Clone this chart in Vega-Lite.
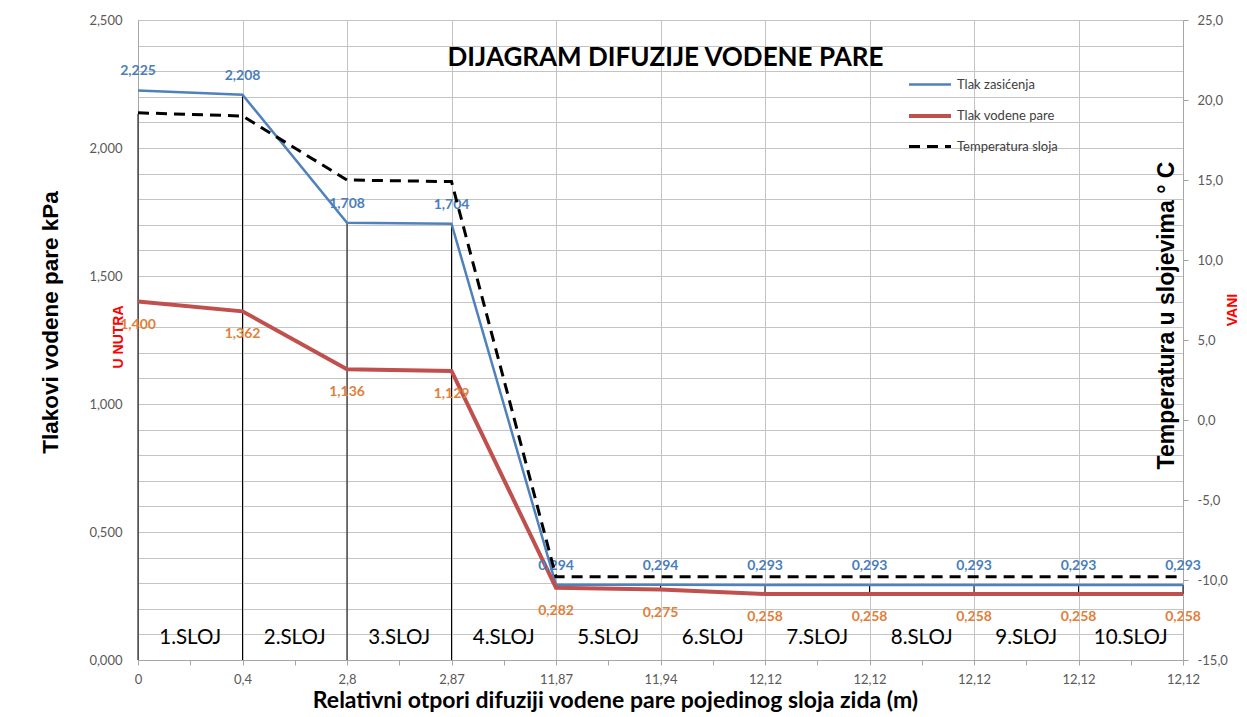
{
  "$schema": "https://vega.github.io/schema/vega-lite/v6.json",
  "width": 1045,
  "height": 640,
  "autosize": "none",
  "padding": {"left": 138, "top": 20, "right": 64, "bottom": 57},
  "background": "white",
  "config": {
    "view": {"stroke": null},
    "font": "Lato",
    "locale": {"number": {"decimal": ",", "thousands": ".", "grouping": [3], "currency": ["", ""], "minus": "-"}},
    "axis": {"labelFont": "Lato", "labelFontSize": 13, "labelColor": "#595959", "gridColor": "#c4c4c4", "domainColor": "#a6a6a6", "tickColor": "#a6a6a6"}
  },
  "title": {"text": "DIJAGRAM DIFUZIJE VODENE PARE", "anchor": "middle", "frame": "group", "offset": 0, "baseline": "middle", "dy": 70, "dx": 5, "font": "Lato", "fontSize": 26, "fontWeight": "bold", "color": "#000000"},
  "datasets": {
    "pts": [
      {"i": 0, "zas": 2.225, "par": 1.400, "temp": 19.2, "lo": 0, "hi": 2.133},
      {"i": 1, "zas": 2.208, "par": 1.362, "temp": 19.0, "lo": 0, "hi": 2.208},
      {"i": 2, "zas": 1.708, "par": 1.136, "temp": 15.0, "lo": 0, "hi": 1.708},
      {"i": 3, "zas": 1.704, "par": 1.129, "temp": 14.9, "lo": 0, "hi": 1.704},
      {"i": 4, "zas": 0.294, "par": 0.282, "temp": -9.8, "lo": 0.282, "hi": 0.294},
      {"i": 5, "zas": 0.294, "par": 0.275, "temp": -9.8, "lo": 0.275, "hi": 0.294},
      {"i": 6, "zas": 0.293, "par": 0.258, "temp": -9.8, "lo": 0.258, "hi": 0.293},
      {"i": 7, "zas": 0.293, "par": 0.258, "temp": -9.8, "lo": 0.258, "hi": 0.293},
      {"i": 8, "zas": 0.293, "par": 0.258, "temp": -9.8, "lo": 0.258, "hi": 0.293},
      {"i": 9, "zas": 0.293, "par": 0.258, "temp": -9.8, "lo": 0.258, "hi": 0.293},
      {"i": 10, "zas": 0.293, "par": 0.258, "temp": -9.8, "lo": 0.258, "hi": 0.293}
    ],
    "sloj": [
      {"i": 0.5, "y": 0.086, "t": "1.SLOJ"},
      {"i": 1.5, "y": 0.086, "t": "2.SLOJ"},
      {"i": 2.5, "y": 0.086, "t": "3.SLOJ"},
      {"i": 3.5, "y": 0.086, "t": "4.SLOJ"},
      {"i": 4.5, "y": 0.086, "t": "5.SLOJ"},
      {"i": 5.5, "y": 0.086, "t": "6.SLOJ"},
      {"i": 6.5, "y": 0.086, "t": "7.SLOJ"},
      {"i": 7.5, "y": 0.086, "t": "8.SLOJ"},
      {"i": 8.5, "y": 0.086, "t": "9.SLOJ"},
      {"i": 9.5, "y": 0.086, "t": "10.SLOJ"}
    ]
  },
  "encoding": {
    "x": {"field": "i", "type": "quantitative", "scale": {"domain": [0, 10], "nice": false, "zero": false},
      "axis": {"values": [0, 0.5, 1, 1.5, 2, 2.5, 3, 3.5, 4, 4.5, 5, 5.5, 6, 6.5, 7, 7.5, 8, 8.5, 9, 9.5, 10],
        "labelExpr": "abs(datum.value - round(datum.value)) < 0.01 ? ['0','0,4','2,8','2,87','11,87','11,94','12,12','12,12','12,12','12,12','12,12'][round(datum.value)] : ''",
        "grid": true,
        "gridOpacity": {"condition": {"test": "abs(datum.value - round(datum.value)) > 0.01", "value": 0}, "value": 1},
        "tickSize": 5, "labelPadding": 8, "labelFlush": false, "labelOverlap": false,
        "title": "Relativni otpori difuziji vodene pare pojedinog sloja zida (m)",
        "titleFont": "Lato", "titleFontSize": 23, "titleFontWeight": "bold", "titleColor": "#000000",
        "titleX": 477, "titleY": 40, "titleAlign": "center", "titleBaseline": "middle"}}
  },
  "layer": [
    {
      "layer": [
        {
          "data": {"name": "pts"},
          "mark": {"type": "rule", "color": "#000000", "strokeWidth": 1},
          "encoding": {
            "y": {"field": "lo", "type": "quantitative", "scale": {"domain": [0, 2.5], "nice": false, "zero": false},
              "axis": {"values": [0, 0.1, 0.2, 0.3, 0.4, 0.5, 0.6, 0.7, 0.8, 0.9, 1.0, 1.1, 1.2, 1.3, 1.4, 1.5, 1.6, 1.7, 1.8, 1.9, 2.0, 2.1, 2.2, 2.3, 2.4, 2.5], "format": ".3f", "labelExpr": "abs(datum.value * 2 - round(datum.value * 2)) < 0.001 ? datum.label : ''", "grid": true, "ticks": false, "labelPadding": 16, "labelOverlap": false, "title": "Tlakovi vodene pare kPa", "titleFont": "Liberation Sans", "titleFontSize": 22.5, "titleFontWeight": "bold", "titleColor": "#000000", "titleAngle": 270, "titleX": -88, "titleY": 302, "titleAlign": "center", "titleBaseline": "middle"}},
            "y2": {"field": "hi"}
          }
        },
        {
          "data": {"name": "pts"},
          "mark": {"type": "line", "strokeWidth": 2.5},
          "encoding": {
            "y": {"field": "zas", "type": "quantitative",
              "axis": {"values": [0, 0.1, 0.2, 0.3, 0.4, 0.5, 0.6, 0.7, 0.8, 0.9, 1.0, 1.1, 1.2, 1.3, 1.4, 1.5, 1.6, 1.7, 1.8, 1.9, 2.0, 2.1, 2.2, 2.3, 2.4, 2.5], "format": ".3f", "labelExpr": "abs(datum.value * 2 - round(datum.value * 2)) < 0.001 ? datum.label : ''", "grid": true, "ticks": false, "labelPadding": 16, "labelOverlap": false, "title": "Tlakovi vodene pare kPa", "titleFont": "Liberation Sans", "titleFontSize": 22.5, "titleFontWeight": "bold", "titleColor": "#000000", "titleAngle": 270, "titleX": -88, "titleY": 302, "titleAlign": "center", "titleBaseline": "middle"}},
            "color": {"datum": "Tlak zasićenja", "type": "nominal",
              "scale": {"domain": ["Tlak zasićenja", "Tlak vodene pare", "Temperatura sloja"], "range": ["#4f81bd", "#c0504d", "#000000"]},
              "legend": {"title": null, "orient": "none", "legendX": 785.5, "legendY": 58, "padding": 0,
                "symbolType": "stroke", "symbolSize": 1764, "symbolStrokeWidth": 2.5,
                "labelFont": "Lato", "labelFontSize": 13, "labelColor": "#404040", "labelOffset": 20.5, "rowPadding": 15.5,
                "encode": {"symbols": {"update": {
                  "strokeDash": {"signal": "datum.value === 'Temperatura sloja' ? [11, 7] : [1, 0]"},
                  "strokeWidth": {"signal": "datum.value === 'Tlak vodene pare' ? 4 : (datum.value === 'Temperatura sloja' ? 3 : 2.5)"}
                }}}}}
          }
        },
        {
          "data": {"name": "pts"},
          "mark": {"type": "line", "strokeWidth": 4},
          "encoding": {
            "y": {"field": "par", "type": "quantitative",
              "axis": {"values": [0, 0.1, 0.2, 0.3, 0.4, 0.5, 0.6, 0.7, 0.8, 0.9, 1.0, 1.1, 1.2, 1.3, 1.4, 1.5, 1.6, 1.7, 1.8, 1.9, 2.0, 2.1, 2.2, 2.3, 2.4, 2.5], "format": ".3f", "labelExpr": "abs(datum.value * 2 - round(datum.value * 2)) < 0.001 ? datum.label : ''", "grid": true, "ticks": false, "labelPadding": 16, "labelOverlap": false, "title": "Tlakovi vodene pare kPa", "titleFont": "Liberation Sans", "titleFontSize": 22.5, "titleFontWeight": "bold", "titleColor": "#000000", "titleAngle": 270, "titleX": -88, "titleY": 302, "titleAlign": "center", "titleBaseline": "middle"}},
            "color": {"datum": "Tlak vodene pare", "type": "nominal"}
          }
        },
        {
          "data": {"name": "pts"},
          "mark": {"type": "text", "font": "Lato", "fontSize": 14, "fontWeight": "bold", "color": "#4a7ebb", "baseline": "middle", "align": "center", "dy": -19},
          "encoding": {
            "y": {"field": "zas", "type": "quantitative",
              "axis": {"values": [0, 0.1, 0.2, 0.3, 0.4, 0.5, 0.6, 0.7, 0.8, 0.9, 1.0, 1.1, 1.2, 1.3, 1.4, 1.5, 1.6, 1.7, 1.8, 1.9, 2.0, 2.1, 2.2, 2.3, 2.4, 2.5], "format": ".3f", "labelExpr": "abs(datum.value * 2 - round(datum.value * 2)) < 0.001 ? datum.label : ''", "grid": true, "ticks": false, "labelPadding": 16, "labelOverlap": false, "title": "Tlakovi vodene pare kPa", "titleFont": "Liberation Sans", "titleFontSize": 22.5, "titleFontWeight": "bold", "titleColor": "#000000", "titleAngle": 270, "titleX": -88, "titleY": 302, "titleAlign": "center", "titleBaseline": "middle"}},
            "text": {"field": "zas", "type": "quantitative", "format": ".3f"}
          }
        },
        {
          "data": {"name": "pts"},
          "mark": {"type": "text", "font": "Lato", "fontSize": 14, "fontWeight": "bold", "color": "#e0803a", "baseline": "middle", "align": "center", "dy": 23},
          "encoding": {
            "y": {"field": "par", "type": "quantitative",
              "axis": {"values": [0, 0.1, 0.2, 0.3, 0.4, 0.5, 0.6, 0.7, 0.8, 0.9, 1.0, 1.1, 1.2, 1.3, 1.4, 1.5, 1.6, 1.7, 1.8, 1.9, 2.0, 2.1, 2.2, 2.3, 2.4, 2.5], "format": ".3f", "labelExpr": "abs(datum.value * 2 - round(datum.value * 2)) < 0.001 ? datum.label : ''", "grid": true, "ticks": false, "labelPadding": 16, "labelOverlap": false, "title": "Tlakovi vodene pare kPa", "titleFont": "Liberation Sans", "titleFontSize": 22.5, "titleFontWeight": "bold", "titleColor": "#000000", "titleAngle": 270, "titleX": -88, "titleY": 302, "titleAlign": "center", "titleBaseline": "middle"}},
            "text": {"field": "par", "type": "quantitative", "format": ".3f"}
          }
        },
        {
          "data": {"name": "sloj"},
          "mark": {"type": "text", "font": "Lato", "fontSize": 20.5, "color": "#000000", "baseline": "middle", "align": "center"},
          "encoding": {
            "y": {"field": "y", "type": "quantitative",
              "axis": {"values": [0, 0.1, 0.2, 0.3, 0.4, 0.5, 0.6, 0.7, 0.8, 0.9, 1.0, 1.1, 1.2, 1.3, 1.4, 1.5, 1.6, 1.7, 1.8, 1.9, 2.0, 2.1, 2.2, 2.3, 2.4, 2.5], "format": ".3f", "labelExpr": "abs(datum.value * 2 - round(datum.value * 2)) < 0.001 ? datum.label : ''", "grid": true, "ticks": false, "labelPadding": 16, "labelOverlap": false, "title": "Tlakovi vodene pare kPa", "titleFont": "Liberation Sans", "titleFontSize": 22.5, "titleFontWeight": "bold", "titleColor": "#000000", "titleAngle": 270, "titleX": -88, "titleY": 302, "titleAlign": "center", "titleBaseline": "middle"}},
            "text": {"field": "t", "type": "nominal"}
          }
        },
        {
          "data": {"values": [{"i": 0, "y": 1.262, "t": "U NUTRA"}]},
          "mark": {"type": "text", "font": "Liberation Sans", "fontSize": 14, "fontWeight": "bold", "color": "#ff0000", "baseline": "middle", "align": "center", "angle": 270, "dy": -19},
          "encoding": {
            "y": {"field": "y", "type": "quantitative",
              "axis": {"values": [0, 0.1, 0.2, 0.3, 0.4, 0.5, 0.6, 0.7, 0.8, 0.9, 1.0, 1.1, 1.2, 1.3, 1.4, 1.5, 1.6, 1.7, 1.8, 1.9, 2.0, 2.1, 2.2, 2.3, 2.4, 2.5], "format": ".3f", "labelExpr": "abs(datum.value * 2 - round(datum.value * 2)) < 0.001 ? datum.label : ''", "grid": true, "ticks": false, "labelPadding": 16, "labelOverlap": false, "title": "Tlakovi vodene pare kPa", "titleFont": "Liberation Sans", "titleFontSize": 22.5, "titleFontWeight": "bold", "titleColor": "#000000", "titleAngle": 270, "titleX": -88, "titleY": 302, "titleAlign": "center", "titleBaseline": "middle"}},
            "text": {"field": "t", "type": "nominal"}
          }
        },
        {
          "data": {"values": [{"i": 10, "y": 1.367, "t": "VANI"}]},
          "mark": {"type": "text", "font": "Liberation Sans", "fontSize": 14, "fontWeight": "bold", "color": "#ff0000", "baseline": "middle", "align": "center", "angle": 270, "dy": 50},
          "encoding": {
            "y": {"field": "y", "type": "quantitative",
              "axis": {"values": [0, 0.1, 0.2, 0.3, 0.4, 0.5, 0.6, 0.7, 0.8, 0.9, 1.0, 1.1, 1.2, 1.3, 1.4, 1.5, 1.6, 1.7, 1.8, 1.9, 2.0, 2.1, 2.2, 2.3, 2.4, 2.5], "format": ".3f", "labelExpr": "abs(datum.value * 2 - round(datum.value * 2)) < 0.001 ? datum.label : ''", "grid": true, "ticks": false, "labelPadding": 16, "labelOverlap": false, "title": "Tlakovi vodene pare kPa", "titleFont": "Liberation Sans", "titleFontSize": 22.5, "titleFontWeight": "bold", "titleColor": "#000000", "titleAngle": 270, "titleX": -88, "titleY": 302, "titleAlign": "center", "titleBaseline": "middle"}},
            "text": {"field": "t", "type": "nominal"}
          }
        }
      ]
    },
    {
      "data": {"name": "pts"},
      "mark": {"type": "line", "strokeWidth": 3, "strokeDash": [11, 7]},
      "encoding": {
        "y": {"field": "temp", "type": "quantitative", "scale": {"domain": [-15, 25], "nice": false, "zero": false},
          "axis": {"orient": "right", "values": [-15, -10, -5, 0, 5, 10, 15, 20, 25], "format": ".1f", "grid": false,
            "tickSize": 5, "labelPadding": 9, "labelOverlap": false,
            "title": "Temperatura u slojevima ° C",
            "titleFont": "Liberation Sans", "titleFontSize": 23, "titleFontWeight": "bold", "titleColor": "#000000",
            "titleAngle": 270, "titleX": -17, "titleY": 295, "titleAlign": "center", "titleBaseline": "middle"}},
        "color": {"datum": "Temperatura sloja", "type": "nominal"}
      }
    }
  ],
  "resolve": {"scale": {"y": "independent"}, "axis": {"y": "independent"}}
}
